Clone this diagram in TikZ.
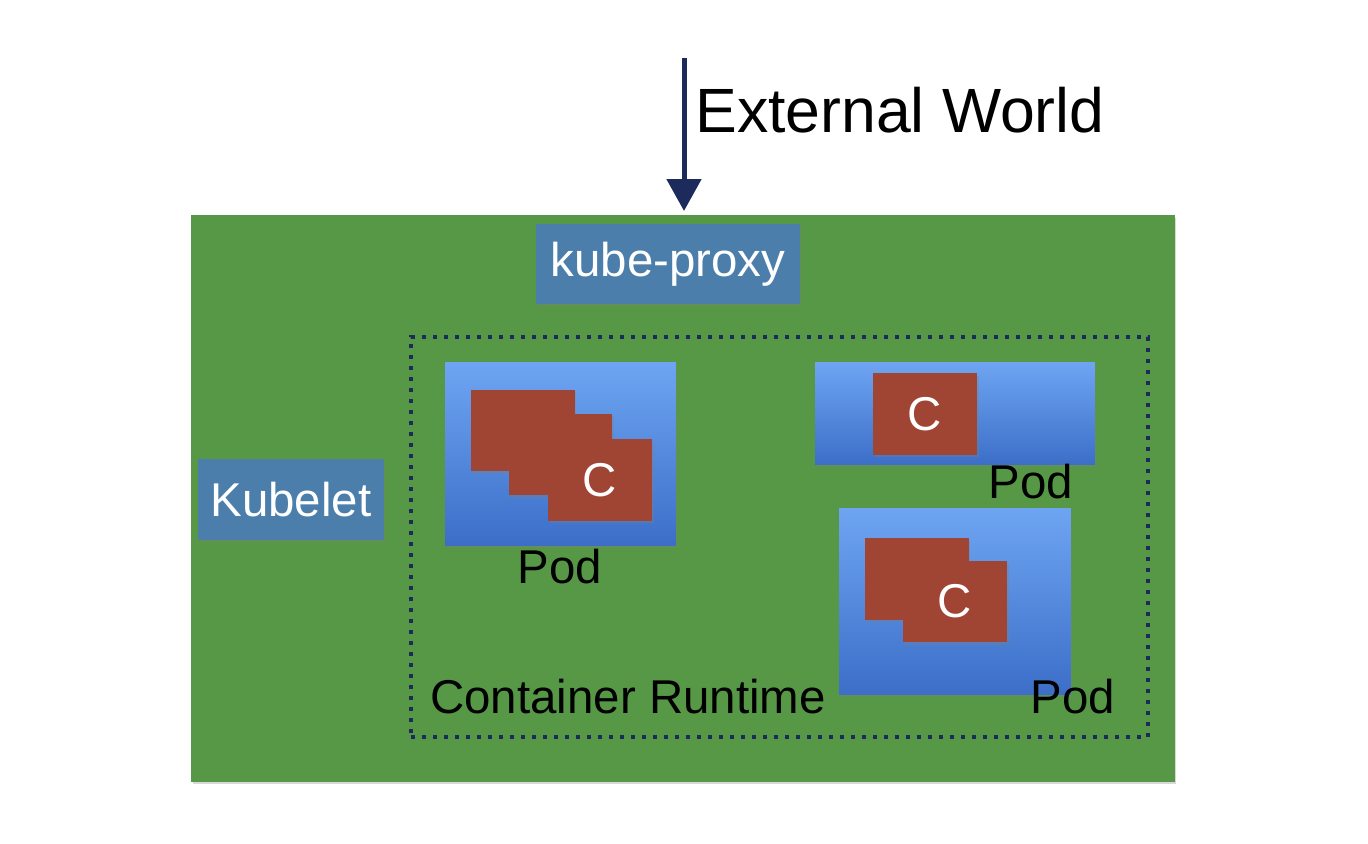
\documentclass[tikz,border=0pt]{standalone}
\usepackage{fontspec}
\setmainfont{Liberation Sans}
\usepackage{xcolor}
\usepackage{tikz}
\usetikzlibrary{arrows.meta}
\usetikzlibrary{shadows}
\usetikzlibrary{positioning}
\definecolor{NodeGreen}{RGB}{86,152,70}
\definecolor{KubeBlue}{RGB}{76,126,172}
\definecolor{PodTop}{RGB}{110,165,242}
\definecolor{PodBottom}{RGB}{60,110,200}
\definecolor{ContRed}{RGB}{160,68,52}
\definecolor{Navy}{RGB}{28,42,92}
\tikzset{
  MyShadow/.style={
    drop shadow={shadow xshift=0.03cm, shadow yshift=-0.05cm, opacity=0.3},
  },
  MyKube/.style={
    rectangle, fill=KubeBlue, text=white, MyShadow,
    inner sep=0pt,
    font=\fontsize{27}{30}\selectfont,
  },
  MyPod/.style={
    rectangle, MyShadow,
    top color=PodTop, bottom color=PodBottom,
  },
  MyCont/.style={
    rectangle, fill=ContRed, MyShadow, text=white,
    minimum width=2.08cm, minimum height=1.64cm,
    font=\fontsize{27}{30}\selectfont,
  },
  MyLabel/.style={
    anchor=base west, inner sep=0pt, text=black,
    font=\fontsize{27}{30}\selectfont,
  },
}
\begin{document}
\begin{tikzpicture}[x=0.02cm, y=-0.02cm]
\useasboundingbox[fill=white] (0,0) rectangle (1368,844);
\node[rectangle, fill=NodeGreen, MyShadow, minimum width=19.68cm, minimum height=11.34cm] (NODE) at (683,498.5) {};
\node[MyKube, minimum width=5.28cm, minimum height=1.6cm] (PROXY) at (668,264) {kube-proxy};
\node[MyKube, minimum width=3.72cm, minimum height=1.62cm] (KLET) at (291,499.5) {Kubelet};
\node[rectangle, draw=Navy, line width=0.08cm, dash pattern=on 0.08cm off 0.14cm, minimum width=14.74cm, minimum height=8cm] (RUNTIME) at (779.5,537) {};
\node[MyLabel] (RTLABEL) at (430,713) {Container Runtime};
% pod with three containers
\node[MyPod, minimum width=4.62cm, minimum height=3.68cm] (POD1) at (560.5,454) {};
\node[MyCont] (C1A) at (523,430.5) {};
\node[MyCont] (C1B) at (560.5,454.5) {};
\node[MyCont] (C1C) at (600,480) {C};
\node[MyLabel] (P1LABEL) at (517,583) {Pod};
% pod with one container
\node[MyPod, minimum width=5.6cm, minimum height=2.06cm] (POD2) at (955,413.5) {};
\node[MyCont] (C2) at (925,414) {C};
\node[MyLabel] (P2LABEL) at (988,498) {Pod};
% pod with two containers
\node[MyPod, minimum width=4.64cm, minimum height=3.74cm] (POD3) at (955,601.5) {};
\node[MyCont] (C3A) at (916.5,579) {};
\node[MyCont] (C3B) at (955,601.5) {C};
\node[MyLabel] (P3LABEL) at (1030,713) {Pod};
% traffic from outside
\coordinate (EXT) at (684,58);
\coordinate (EXTEND) at (684,211);
\node[MyLabel, font=\fontsize{35.6}{40}\selectfont] (EXTLABEL) at (695,133) {External World};
\draw[-{Triangle[width=0.68cm, length=0.64cm]}, line width=0.1cm, draw=Navy, fill=Navy] (EXT) to (EXTEND);
\end{tikzpicture}
\end{document}
